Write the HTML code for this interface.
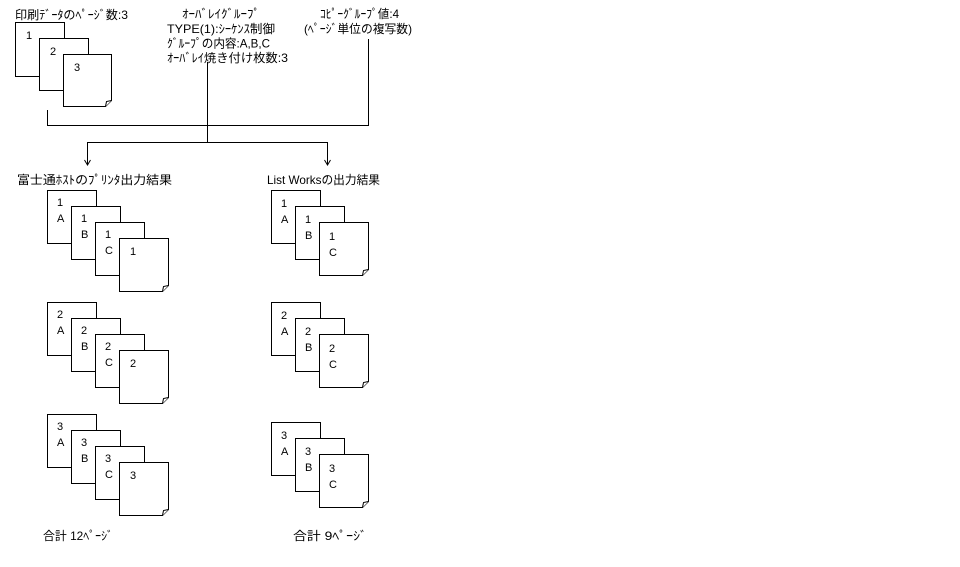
<!DOCTYPE html>
<html>
<head>
<meta charset="utf-8">
<style>
html,body{margin:0;padding:0;background:#fff;}
svg{display:block;}
text{font-family:"Liberation Sans","Noto Sans CJK JP",sans-serif;fill:#000;}
.t{font-size:12px;}
.p{font-size:11px;}
.ln{stroke:#000;stroke-width:1;fill:none;shape-rendering:crispEdges;}
.pg{stroke:#000;stroke-width:1;fill:#fff;shape-rendering:crispEdges;}
.tp{stroke:#000;stroke-width:1;fill:#fff;}
.fl{stroke:#000;stroke-width:1;fill:#fff;}
</style>
</head>
<body>
<svg width="960" height="567" viewBox="0 0 960 567" xmlns="http://www.w3.org/2000/svg">
<rect x="0" y="0" width="960" height="567" fill="#fff"/>

<!-- header texts -->
<text class="t" x="15" y="19" textLength="113" lengthAdjust="spacingAndGlyphs">印刷ﾃﾞｰﾀのﾍﾟｰｼﾞ数:3</text>
<text class="t" x="182" y="18" textLength="78" lengthAdjust="spacingAndGlyphs">ｵｰﾊﾞﾚｲｸﾞﾙｰﾌﾟ</text>
<text class="t" x="167" y="33" textLength="108" lengthAdjust="spacingAndGlyphs">TYPE(1):ｼｰｹﾝｽ制御</text>
<text class="t" x="167" y="47.5" textLength="103" lengthAdjust="spacingAndGlyphs">ｸﾞﾙｰﾌﾟの内容:A,B,C</text>
<text class="t" x="167" y="62" textLength="121" lengthAdjust="spacingAndGlyphs">ｵｰﾊﾞﾚｲ焼き付け枚数:3</text>
<text class="t" x="320" y="18" textLength="79" lengthAdjust="spacingAndGlyphs">ｺﾋﾟｰｸﾞﾙｰﾌﾟ値:4</text>
<text class="t" x="304" y="33" textLength="108" lengthAdjust="spacingAndGlyphs">(ﾍﾟｰｼﾞ単位の複写数)</text>

<!-- header stack -->
<rect class="pg" x="15.5" y="22.5" width="49" height="54"/>
<text class="p" x="26" y="39">1</text>
<rect class="pg" x="39.5" y="38.5" width="49" height="52"/>
<text class="p" x="50" y="55">2</text>
<path class="tp" d="M63.5,54.5 H111.5 V100.5 L105.5,106.5 H63.5 Z"/>
<path class="fl" d="M111.5,100.5 L106.5,101.5 L105.5,106.5"/>
<text class="p" x="74" y="71">3</text>

<!-- connectors -->
<path class="ln" d="M47.5,110 V125.5 H368.5 V39"/>
<path class="ln" d="M207.5,62 V142.5"/>
<path class="ln" d="M87.5,165 V142.5 H327.5 V165"/>
<polyline points="84.5,160 87.5,165 90.5,160" fill="none" stroke="#000" stroke-width="1"/>
<polyline points="324.5,160 327.5,165 330.5,160" fill="none" stroke="#000" stroke-width="1"/>

<text class="t" x="17" y="184" textLength="155" lengthAdjust="spacingAndGlyphs">富士通ﾎｽﾄのﾌﾟﾘﾝﾀ出力結果</text>
<text class="t" x="267" y="184" textLength="113" lengthAdjust="spacingAndGlyphs">List Worksの出力結果</text>

<!-- LEFT column stack 1 (T=190) -->
<rect class="pg" x="47.5" y="190.5" width="49" height="53"/>
<text class="p" x="57" y="206">1</text><text class="p" x="57" y="222">A</text>
<rect class="pg" x="71.5" y="206.5" width="49" height="53"/>
<text class="p" x="81" y="222">1</text><text class="p" x="81" y="238">B</text>
<rect class="pg" x="95.5" y="222.5" width="49" height="53"/>
<text class="p" x="105" y="238">1</text><text class="p" x="105" y="254">C</text>
<path class="tp" d="M119.5,238.5 H168.5 V285.5 L162.5,291.5 H119.5 Z"/>
<path class="fl" d="M168.5,285.5 L163.5,286.5 L162.5,291.5"/>
<text class="p" x="130" y="255">1</text>

<!-- LEFT column stack 2 (T=302) -->
<rect class="pg" x="47.5" y="302.5" width="49" height="53"/>
<text class="p" x="57" y="318">2</text><text class="p" x="57" y="334">A</text>
<rect class="pg" x="71.5" y="318.5" width="49" height="53"/>
<text class="p" x="81" y="334">2</text><text class="p" x="81" y="350">B</text>
<rect class="pg" x="95.5" y="334.5" width="49" height="53"/>
<text class="p" x="105" y="350">2</text><text class="p" x="105" y="366">C</text>
<path class="tp" d="M119.5,350.5 H168.5 V397.5 L162.5,403.5 H119.5 Z"/>
<path class="fl" d="M168.5,397.5 L163.5,398.5 L162.5,403.5"/>
<text class="p" x="130" y="367">2</text>

<!-- LEFT column stack 3 (T=414) -->
<rect class="pg" x="47.5" y="414.5" width="49" height="53"/>
<text class="p" x="57" y="430">3</text><text class="p" x="57" y="446">A</text>
<rect class="pg" x="71.5" y="430.5" width="49" height="53"/>
<text class="p" x="81" y="446">3</text><text class="p" x="81" y="462">B</text>
<rect class="pg" x="95.5" y="446.5" width="49" height="53"/>
<text class="p" x="105" y="462">3</text><text class="p" x="105" y="478">C</text>
<path class="tp" d="M119.5,462.5 H168.5 V509.5 L162.5,515.5 H119.5 Z"/>
<path class="fl" d="M168.5,509.5 L163.5,510.5 L162.5,515.5"/>
<text class="p" x="130" y="479">3</text>

<!-- RIGHT column stack 1 (T=190) -->
<rect class="pg" x="271.5" y="190.5" width="49" height="53"/>
<text class="p" x="281" y="207">1</text><text class="p" x="281" y="223">A</text>
<rect class="pg" x="295.5" y="206.5" width="49" height="53"/>
<text class="p" x="305" y="223">1</text><text class="p" x="305" y="239">B</text>
<path class="tp" d="M319.5,222.5 H368.5 V269.5 L362.5,275.5 H319.5 Z"/>
<path class="fl" d="M368.5,269.5 L363.5,270.5 L362.5,275.5"/>
<text class="p" x="329" y="240">1</text><text class="p" x="329" y="256">C</text>

<!-- RIGHT column stack 2 (T=302) -->
<rect class="pg" x="271.5" y="302.5" width="49" height="53"/>
<text class="p" x="281" y="319">2</text><text class="p" x="281" y="335">A</text>
<rect class="pg" x="295.5" y="318.5" width="49" height="53"/>
<text class="p" x="305" y="335">2</text><text class="p" x="305" y="351">B</text>
<path class="tp" d="M319.5,334.5 H368.5 V381.5 L362.5,387.5 H319.5 Z"/>
<path class="fl" d="M368.5,381.5 L363.5,382.5 L362.5,387.5"/>
<text class="p" x="329" y="352">2</text><text class="p" x="329" y="368">C</text>

<!-- RIGHT column stack 3 (T=422) -->
<rect class="pg" x="271.5" y="422.5" width="49" height="53"/>
<text class="p" x="281" y="439">3</text><text class="p" x="281" y="455">A</text>
<rect class="pg" x="295.5" y="438.5" width="49" height="53"/>
<text class="p" x="305" y="455">3</text><text class="p" x="305" y="471">B</text>
<path class="tp" d="M319.5,454.5 H368.5 V501.5 L362.5,507.5 H319.5 Z"/>
<path class="fl" d="M368.5,501.5 L363.5,502.5 L362.5,507.5"/>
<text class="p" x="329" y="472">3</text><text class="p" x="329" y="488">C</text>

<!-- totals -->
<text class="t" x="43" y="540" textLength="70" lengthAdjust="spacingAndGlyphs">合計 12ﾍﾟｰｼﾞ</text>
<text class="t" x="293" y="540" textLength="74" lengthAdjust="spacingAndGlyphs">合計 9ﾍﾟｰｼﾞ</text>
</svg>
</body>
</html>
